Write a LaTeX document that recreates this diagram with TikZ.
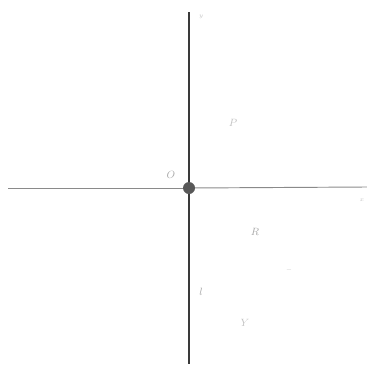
\documentclass[tikz,border=0pt]{standalone}
\usepackage{tikz}
\usetikzlibrary{positioning}
\definecolor{axisdark}{HTML}{3A3A3A}
\definecolor{axislight}{HTML}{8A8A8A}
\definecolor{labelgray}{HTML}{A8A8A8}

\begin{document}
\begin{tikzpicture}[
  x=0.03cm, y=-0.03cm,
  every node/.style={font=\small, text=labelgray},
  axisv/.style={axisdark, line width=1.4pt},
  axish/.style={axislight, line width=0.8pt},
  origindot/.style={circle, fill=axisdark!85, inner sep=0pt, minimum size=3.6mm},
  faint/.style={font=\small\itshape, text=labelgray!70}
]
  \useasboundingbox (0,0) rectangle (367,364);
  % axes
  \coordinate (top) at (189,12);
  \coordinate (bottom) at (189,364);
  \coordinate (left) at (8,188);
  \coordinate (right) at (367,187);
  \node[origindot] (O) at (189,188) {};

  \draw[axish] (left) -- (O);
  \draw[axish] (O) -- (right);
  \draw[axisv] (top) -- (O);
  \draw[axisv] (O) -- (bottom);

  % labels
  \node[faint] (ylab) at (201,17) {\tiny $y$};
  \node (olab) at (171,175) {$O$};
  \node[faint] (plab) at (233,123) {$P$};
  \node (rlab) at (255,232) {$R$};
  \node[faint] (dlab) at (289,270) {\tiny $-$};
  \node (llab) at (201,292) {$l$};
  \node[faint] (Ylab) at (245,323) {$Y$};
  \node[faint] (xlab) at (362,200) {\tiny $x$};
\end{tikzpicture}
\end{document}
